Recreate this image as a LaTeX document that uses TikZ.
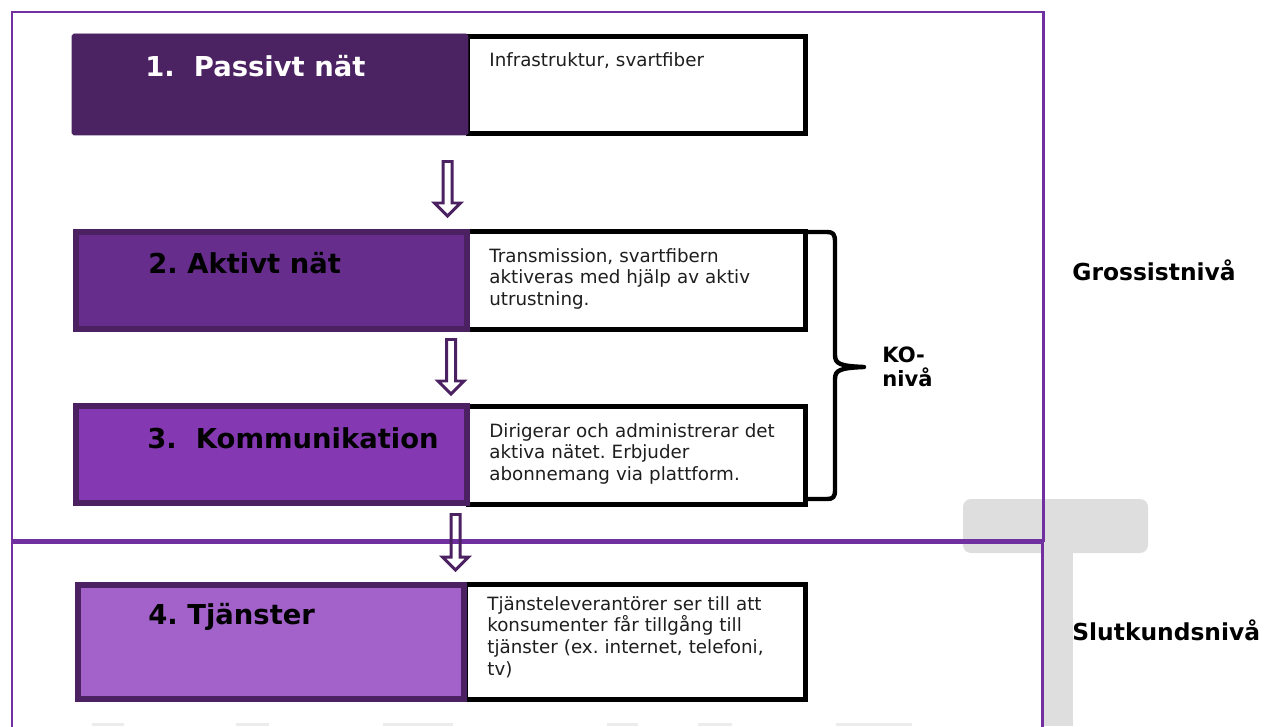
\documentclass[tikz,border=0pt]{standalone}
\usepackage{fontspec}
\setmainfont{DejaVu Sans}
\frenchspacing
\usetikzlibrary{positioning, calc}

\definecolor{koframe}{HTML}{7030A0}
\definecolor{kodark}{HTML}{4B2161}
\definecolor{passiv}{HTML}{4B2262}
\definecolor{aktiv}{HTML}{662D8C}
\definecolor{kommun}{HTML}{8439B2}
\definecolor{tjanst}{HTML}{A262CA}
\definecolor{tgrey}{HTML}{DEDEDE}
\definecolor{faintgrey}{HTML}{ECECEC}
\definecolor{desctext}{HTML}{1E1E1E}

\begin{document}
\begin{tikzpicture}[
    x=0.02cm, y=-0.02cm,
    lbox/.style={draw=kodark, line width=3.4pt, inner sep=0pt, outer sep=0pt, anchor=north west},
    dbox/.style={draw=black, line width=2.83pt, fill=white, inner sep=0pt, outer sep=0pt, anchor=north west, minimum width=6.76cm},
    title/.style={font=\bfseries\fontsize{15.6}{18}\selectfont, anchor=base west, inner sep=0pt},
    desc/.style={font=\fontsize{10.4}{12.47}\selectfont, text=desctext, text width=6.4cm, align=left, anchor=base west, inner sep=0pt},
    level/.style={font=\bfseries\fontsize{13.3}{16}\selectfont, anchor=base west, inner sep=0pt},
    frame/.style={draw=koframe, line width=1.7pt},
    hollow/.style={draw=kodark, line width=1.7pt, line join=miter}
]

  \clip (0,0) rectangle (1266,726);

  % Grey background T and faint marks
  \fill[tgrey, rounded corners=0.16cm] (963,499) rectangle (1148,553);
  \fill[tgrey] (1043,545) rectangle (1073,726);
  \foreach \a/\b in {92/124, 236/269, 383/453, 607/638, 698/732, 836/912}
    \fill[faintgrey] (\a,723) rectangle (\b,726);

  % Level frames
  \draw[frame] (12,12) rectangle (1043,540);
  \draw[frame] (12,740) -- (12,542) -- (1042,542) -- (1042,740);

  % Description boxes (right)
  \node[dbox, minimum height=1.94cm] (d1) at (468,36.5) {};
  \node[dbox, minimum height=1.96cm] (d2) at (468,231.5) {};
  \node[dbox, minimum height=1.96cm] (d3) at (468,406.5) {};
  \node[dbox, minimum height=2.30cm, minimum width=6.8cm] (d4) at (466,584.5) {};

  % Level boxes (left)
  \node[lbox, fill=passiv, draw=passiv, line width=0.4pt, rounded corners=1pt,
        minimum width=7.92cm, minimum height=2.02cm] (p1) at (72,34) {};
  \node[lbox, fill=aktiv, minimum width=7.82cm, minimum height=1.94cm] (p2) at (76,232) {};
  \node[lbox, fill=kommun, minimum width=7.82cm, minimum height=1.94cm] (p3) at (76,406) {};
  \node[lbox, fill=tjanst, minimum width=7.72cm, minimum height=2.28cm] (p4) at (78,585) {};

  % Titles
  \node[title, text=white] (t1) at (145,77) {1.~~Passivt nät};
  \node[title] (t2) at (148,273) {2. Aktivt nät};
  \node[title] (t3) at (147,448) {3.~~Kommunikation};
  \node[title] (t4) at (148,624) {4. Tjänster};

  % Descriptions
  \node[desc] (n1) at (489,67) {Infrastruktur, svartfiber};
  \node[desc] (n2) at (489,262) {Transmission, svartfibern\\aktiveras med hjälp av aktiv\\utrustning.};
  \node[desc] (n3) at (489,437) {Dirigerar och administrerar det\\aktiva nätet. Erbjuder\\abonnemang via plattform.};
  \node[desc] (n4) at (487,610) {Tjänsteleverantörer ser till att\\konsumenter får tillgång till\\tjänster (ex. internet, telefoni,\\tv)};

  % Hollow arrows between levels
  \foreach \x/\ya/\yb in {447.5/160/218, 451/338/396, 455.5/513/572}
    \draw[hollow] (\x-4.5,\ya+1.5) -- (\x+4.5,\ya+1.5) -- (\x+4.5,\yb-15)
      -- (\x+13,\yb-15) -- (\x,\yb-2) -- (\x-13,\yb-15) -- (\x-4.5,\yb-15) -- cycle;

  % Brace round level 2 and 3
  \draw[line width=2.5pt, line cap=round, line join=round]
    (808,232) -- (827,232) .. controls (833,232) and (835,234) .. (835,242)
    -- (835,355) .. controls (835,364) and (840,366) .. (864,367)
    .. controls (840,368) and (835,370) .. (835,379)
    -- (835,490) .. controls (835,497) and (833,499) .. (827,499) -- (808,499);

  % Level labels
  \node[level, font=\bfseries\fontsize{12}{14.2}\selectfont, text width=2cm, align=left] (ko) at (882,362) {KO-\\nivå};
  \node[level] (gross) at (1072,280) {Grossistnivå};
  \node[level] (slut) at (1072,640) {Slutkundsnivå};

\end{tikzpicture}
\end{document}
